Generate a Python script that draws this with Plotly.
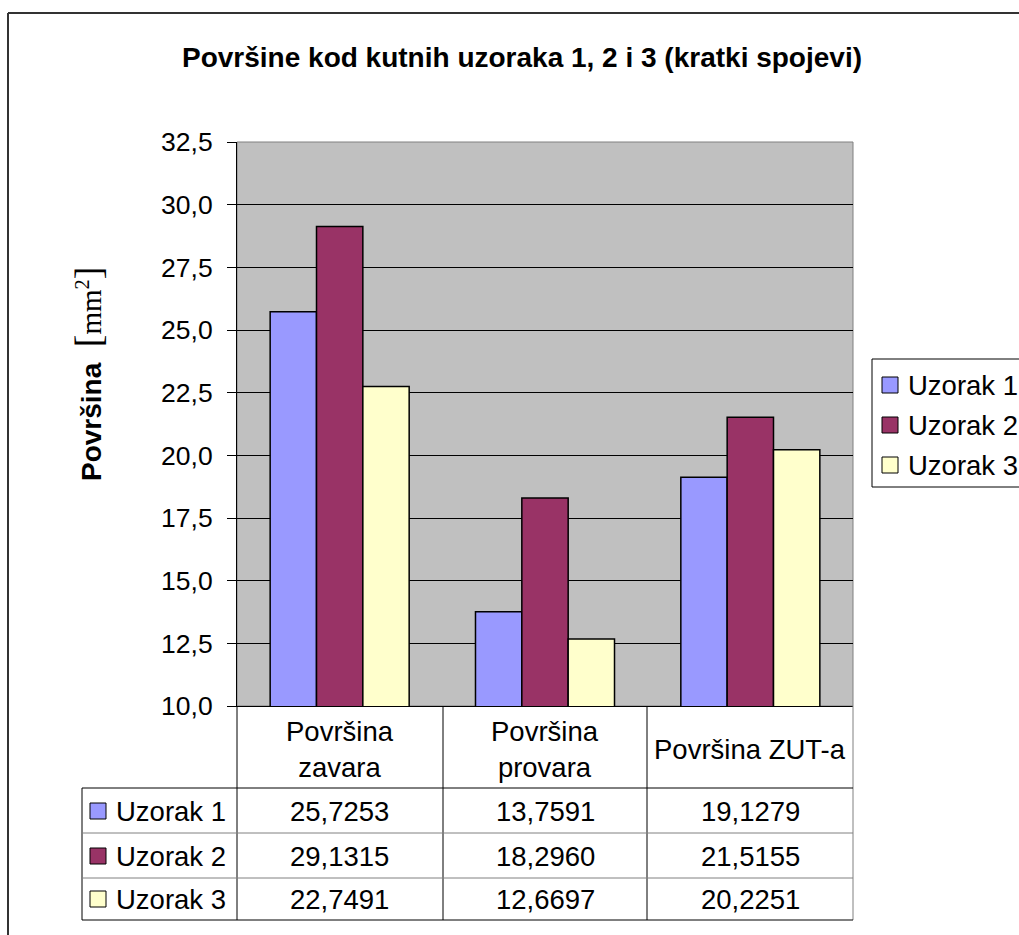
import plotly.graph_objects as go

# ---- data ----
categories = ["Površina zavara", "Površina provara", "Površina ZUT-a"]
header_labels = ["Površina<br>zavara", "Površina<br>provara", "Površina ZUT-a"]
series_names = ["Uzorak 1", "Uzorak 2", "Uzorak 3"]
uzorak_1 = [25.7253, 13.7591, 19.1279]
uzorak_2 = [29.1315, 18.2960, 21.5155]
uzorak_3 = [22.7491, 12.6697, 20.2251]
series_values = [uzorak_1, uzorak_2, uzorak_3]
series_colors = ["#9999FF", "#993366", "#FFFFCC"]
y_ticks = [10.0, 12.5, 15.0, 17.5, 20.0, 22.5, 25.0, 27.5, 30.0, 32.5]

# ---- layout geometry (pixels) ----
W, H = 1019, 935
PL, PR, PT, PB = 237, 853, 142, 706  # plot area edges
FONT = "Liberation Sans, Arial, sans-serif"
SERIF = "Liberation Serif,Times New Roman,serif"
FS = 27.5


def px(x):
    return (x - PL) / (PR - PL)


def py(y):
    return (PB - y) / (PB - PT)


def fmt(v):
    return f"{v:.4f}".replace(".", ",")


fig = go.Figure()
for name, vals, col in zip(series_names, series_values, series_colors):
    fig.add_trace(go.Bar(
        x=categories, y=vals, name=name, showlegend=False,
        marker=dict(color=col, line=dict(color="black", width=1.5)),
    ))

shapes = []
annotations = []

# plot-area frame (grey on right/top)
shapes.append(dict(type="rect", xref="paper", yref="paper", x0=0, x1=1, y0=0, y1=1,
                   line=dict(color="#808080", width=1), layer="below"))

# outer chart border
shapes.append(dict(type="line", xref="paper", yref="paper", x0=px(8), x1=px(8),
                   y0=py(13), y1=py(H + 5), line=dict(color="#333333", width=2)))
shapes.append(dict(type="line", xref="paper", yref="paper", x0=px(8), x1=px(W + 5),
                   y0=py(13), y1=py(13), line=dict(color="#333333", width=2)))

# legend box (runs past the right edge of the chart)
shapes.append(dict(type="rect", xref="paper", yref="paper", x0=px(872), x1=px(W + 20),
                   y0=py(487), y1=py(359), fillcolor="white",
                   line=dict(color="black", width=1)))
legend_centers = [385, 425, 465]
for name, col, yc in zip(series_names, series_colors, legend_centers):
    shapes.append(dict(type="rect", xref="paper", yref="paper",
                       x0=px(882), x1=px(898), y0=py(yc + 8), y1=py(yc - 8),
                       fillcolor=col, line=dict(color="black", width=1)))
    annotations.append(dict(x=px(906), xref="paper", y=py(yc), yref="paper", text=name,
                            showarrow=False, font=dict(family=FONT, size=FS, color="black"),
                            xanchor="left", yanchor="middle"))

# data table grid
col_edges = [237, 443, 647, 853]
row_edges = [788, 833, 878, 920]
TL = 82
for i, xe in enumerate(col_edges):
    shapes.append(dict(type="line", xref="paper", yref="paper", x0=px(xe), x1=px(xe),
                       y0=py(PB), y1=py(920),
                       line=dict(color="#808080" if i == 3 else "black", width=1)))
shapes.append(dict(type="line", xref="paper", yref="paper", x0=px(TL), x1=px(TL),
                   y0=py(788), y1=py(920), line=dict(color="black", width=1)))
for j, ye in enumerate(row_edges):
    shapes.append(dict(type="line", xref="paper", yref="paper", x0=px(TL), x1=px(853),
                       y0=py(ye), y1=py(ye),
                       line=dict(color="black" if j in (0, 3) else "#808080", width=1)))

# header row (category names)
for cat, lab in zip(categories, header_labels):
    annotations.append(dict(x=cat, xref="x", y=py(749), yref="paper", text=lab,
                            showarrow=False, font=dict(family=FONT, size=FS, color="black"),
                            xanchor="center", yanchor="middle"))

# value rows
row_centers = [811, 856, 899]
for r, (name, vals, col) in enumerate(zip(series_names, series_values, series_colors)):
    yc = row_centers[r]
    shapes.append(dict(type="rect", xref="paper", yref="paper",
                       x0=px(90), x1=px(106), y0=py(yc - 8), y1=py(yc + 8),
                       fillcolor=col, line=dict(color="black", width=1)))
    annotations.append(dict(x=px(114), xref="paper", y=py(yc), yref="paper", text=name,
                            showarrow=False, font=dict(family=FONT, size=FS, color="black"),
                            xanchor="left", yanchor="middle"))
    for cat, v in zip(categories, vals):
        annotations.append(dict(x=cat, xref="x", y=py(yc), yref="paper", text=fmt(v),
                                showarrow=False, font=dict(family=FONT, size=FS, color="black"),
                                xanchor="center", yanchor="middle"))

# chart title
annotations.append(dict(x=px(522), xref="paper", y=py(58), yref="paper",
                        text="<b>Površine kod kutnih uzoraka 1, 2 i 3 (kratki spojevi)</b>",
                        showarrow=False, font=dict(family=FONT, size=28, color="black"),
                        xanchor="center", yanchor="middle"))

# y-axis title
annotations.append(dict(x=px(88), xref="paper", y=py(374), yref="paper", textangle=-90,
                        text="<b>Površina</b>  "
                             f"<span style='font-family:{SERIF};font-size:38px'>[</span>"
                             f"<span style='font-family:{SERIF};font-size:29px'>mm<sup>2</sup></span>"
                             f"<span style='font-family:{SERIF};font-size:38px'>]</span>",
                        showarrow=False, font=dict(family=FONT, size=28, color="black"),
                        xanchor="center", yanchor="middle"))

fig.update_layout(
    width=W, height=H,
    margin=dict(l=PL, r=W - PR, t=PT, b=H - PB, pad=0),
    paper_bgcolor="white", plot_bgcolor="#C0C0C0",
    separators=",.",
    barmode="group", bargap=0.323, bargroupgap=0,
    font=dict(family=FONT, size=FS, color="black"),
    showlegend=False,
    shapes=shapes, annotations=annotations,
)
fig.update_xaxes(showticklabels=False, ticks="", showline=True, linecolor="black",
                 linewidth=1, showgrid=False, categoryorder="array", categoryarray=categories)
fig.update_yaxes(range=[10, 32.5], tickvals=y_ticks, tickformat=".1f",
                 ticks="outside", ticklen=9, tickcolor="black", tickwidth=1,
                 ticklabelstandoff=9,
                 showline=True, linecolor="black", linewidth=1,
                 showgrid=True, gridcolor="black", gridwidth=1, zeroline=False,
                 tickfont=dict(family=FONT, size=26.5, color="black"))

fig.write_html("out.html")
